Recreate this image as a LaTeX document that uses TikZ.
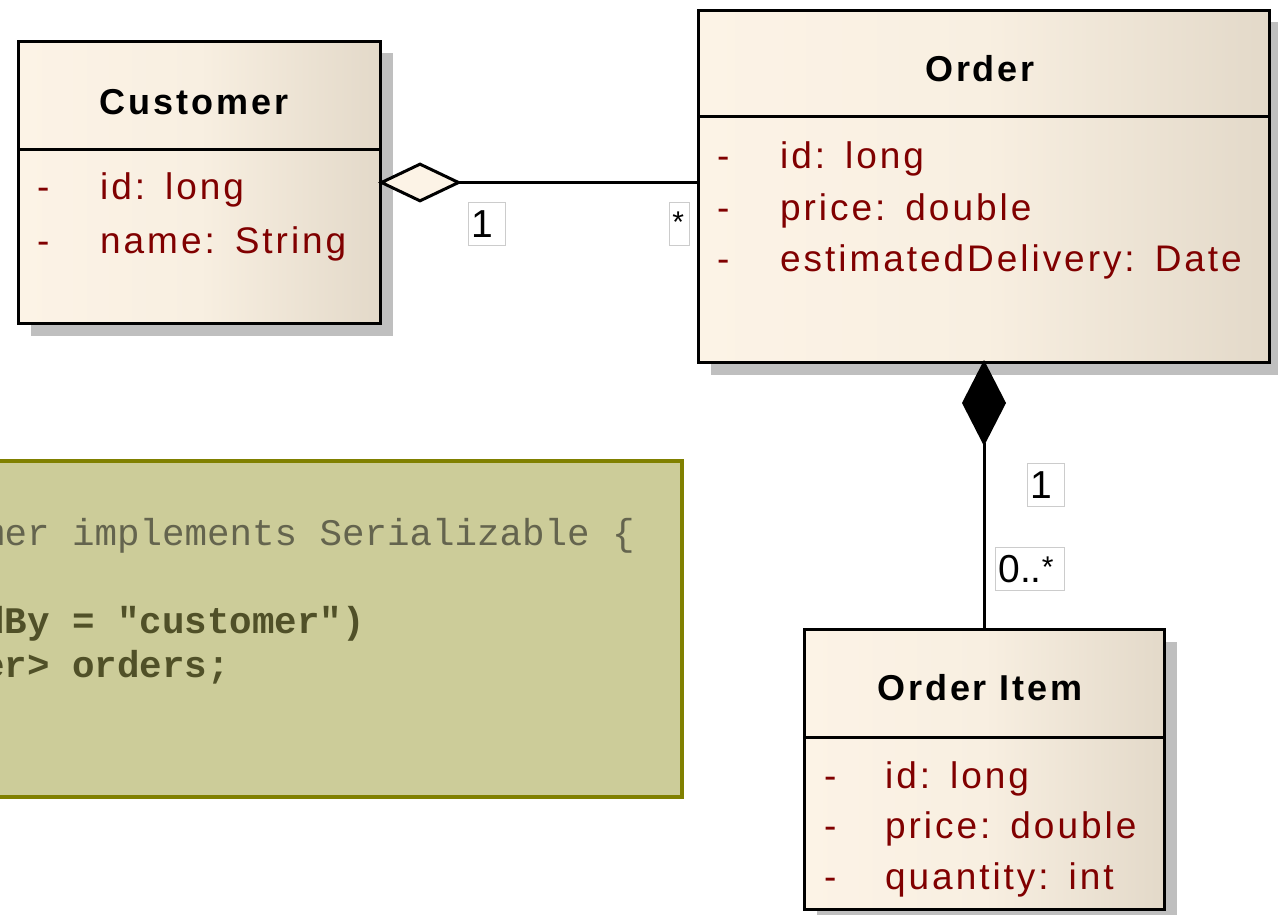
\documentclass[tikz,border=0pt]{standalone}
\usepackage{fontspec}
\setmainfont{Liberation Sans}
\setmonofont{Liberation Mono}
\newfontfamily\titlefont[LetterSpace=8]{Liberation Sans}
\newfontfamily\attrfont[LetterSpace=8]{Liberation Sans}
\usetikzlibrary{shadows,arrows.meta}

\definecolor{clsL}{RGB}{252,243,230}
\definecolor{clsM}{RGB}{248,239,225}
\definecolor{clsR}{RGB}{227,217,201}
\definecolor{attr}{RGB}{128,0,0}
\definecolor{codebg}{RGB}{204,204,153}
\definecolor{codeframe}{RGB}{128,128,0}
\definecolor{codeplain}{RGB}{100,100,78}
\definecolor{codebold}{RGB}{80,80,40}
\definecolor{shadowgray}{RGB}{191,191,191}

% class compartments: light for most of the width, darkening towards the right
\pgfdeclarehorizontalshading{classfill}{100bp}{color(0bp)=(clsL); color(25bp)=(clsL);
  color(50bp)=(clsM); color(75bp)=(clsR); color(100bp)=(clsR)}

\newcommand{\colgap}{\hspace{20pt}}
\newcommand{\many}{\raisebox{5pt}{\fontsize{30pt}{30pt}\selectfont *}}

\begin{document}
\begin{tikzpicture}[x=1pt,y=-1pt,
  classbox/.style={draw=black, line width=3pt, shading=classfill, inner sep=0pt,
    drop shadow={shadow xshift=12pt, shadow yshift=-12pt, fill=shadowgray, opacity=1}},
  divider/.style={draw=black, line width=3pt},
  classtitle/.style={inner sep=0pt, anchor=base, text=black,
    font=\titlefont\bfseries\fontsize{36pt}{40pt}\selectfont},
  attrtext/.style={inner sep=0pt, anchor=base west, text=attr,
    font=\attrfont\fontsize{37pt}{40pt}\selectfont},
  codebox/.style={draw=codeframe, fill=codebg, line width=4pt, inner sep=0pt},
  codeplainline/.style={inner sep=0pt, anchor=base west, text=codeplain,
    font=\ttfamily\fontsize{37.5pt}{40pt}\selectfont},
  codeboldline/.style={inner sep=0pt, anchor=base west, text=codebold,
    font=\ttfamily\bfseries\fontsize{37.5pt}{40pt}\selectfont},
  assoc/.style={draw=black, line width=3pt},
  mult/.style={draw=black!20, fill=white, line width=0.8pt, inner xsep=3pt,
    inner ysep=7.5pt, text height=28pt, text depth=0pt, align=left,
    anchor=north west, font=\fontsize{39pt}{42pt}\selectfont}
]
\useasboundingbox (0,0) rectangle (1278,915);

% ---- code snippet panel ----
\node[codebox, anchor=north west, minimum width=700pt, minimum height=336pt]
  (code) at (-20,459) {};
\node[codeplainline] (codeA) at (-18,545) {mer implements Serializable \{};
\node[codeboldline]  (codeB) at (-18,633) {dBy = "customer")};
\node[codeboldline]  (codeC) at (-18,677) {er> orders;};

% ---- Customer ----
\node[classbox, anchor=north west, minimum width=362pt, minimum height=282pt]
  (cust) at (17,40) {};
\draw[divider] ([yshift=-110pt]cust.north west) -- ([yshift=-110pt]cust.north east);
\node[classtitle] (custT) at (194,115) {Customer};
\node[attrtext] (custD1) at (37,200) {-};
\node[attrtext] (custA1) at (100,200) {id:\colgap long};
\node[attrtext] (custD2) at (37,253) {-};
\node[attrtext] (custA2) at (100,253) {name:\colgap String};

% ---- Order ----
\node[classbox, anchor=north west, minimum width=571pt, minimum height=352pt]
  (order) at (697,9) {};
\draw[divider] ([yshift=-108pt]order.north west) -- ([yshift=-108pt]order.north east);
\node[classtitle] (orderT) at (980,82) {Order};
\node[attrtext] (orderD1) at (717,169) {-};
\node[attrtext] (orderA1) at (780,169) {id:\colgap long};
\node[attrtext] (orderD2) at (717,220) {-};
\node[attrtext] (orderA2) at (780,220) {price:\colgap double};
\node[attrtext] (orderD3) at (717,271) {-};
\node[attrtext] (orderA3) at (780,271) {estimatedDelivery:\colgap Date};

% ---- OrderItem ----
\node[classbox, anchor=north west, minimum width=360pt, minimum height=280pt]
  (item) at (803,628) {};
\draw[divider] ([yshift=-109pt]item.north west) -- ([yshift=-109pt]item.north east);
\node[classtitle] (itemT) at (980,700) {Order Item};
\node[attrtext] (itemD1) at (824,788) {-};
\node[attrtext] (itemA1) at (885,788) {id:\colgap long};
\node[attrtext] (itemD2) at (824,838) {-};
\node[attrtext] (itemA2) at (885,838) {price:\colgap double};
\node[attrtext] (itemD3) at (824,889) {-};
\node[attrtext] (itemA3) at (885,889) {quantity:\colgap int};

% ---- associations ----
\draw[assoc, {Diamond[fill=clsL, length=84pt, width=40pt]}-]
  ([xshift=-4pt]cust.east) -- (cust.east -| order.west);
\draw[assoc, {Diamond[fill=black, length=86pt, width=44pt]}-]
  ([yshift=4pt]order.south) -- (order.south |- item.north);

% ---- multiplicities ----
\node[mult, text width=31pt] (mCust)  at (468,202)  {1};
\node[mult, text width=14pt] (mOrder) at (669,202)  {\many};
\node[mult, text width=31pt] (mWhole) at (1027,463) {1};
\node[mult, text width=63pt] (mPart)  at (995,547)  {0..\many};
\end{tikzpicture}
\end{document}
